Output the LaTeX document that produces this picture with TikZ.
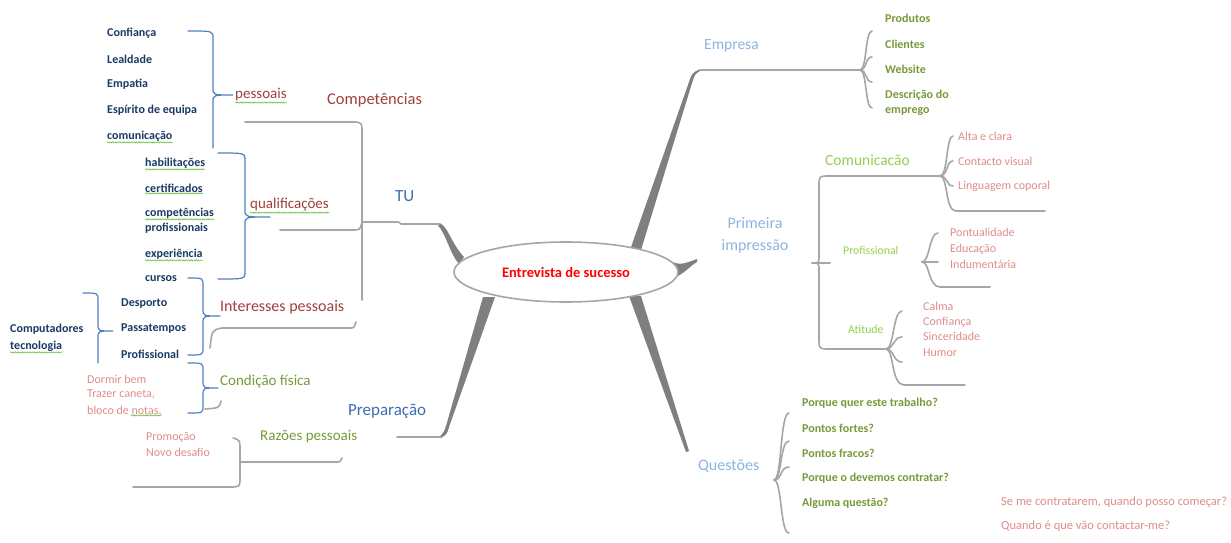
\documentclass[tikz,border=0pt]{standalone}
\usepackage{fontspec}
\setmainfont{Carlito}
\usetikzlibrary{shapes.geometric,decorations.pathmorphing,calc}

\definecolor{navyink}{HTML}{1B3A64}
\definecolor{rust}{HTML}{A0403D}
\definecolor{deepblue}{HTML}{3E6DB0}
\definecolor{paleblue}{HTML}{8DB3E2}
\definecolor{limeink}{HTML}{92D050}
\definecolor{oliveink}{HTML}{7A9A3A}
\definecolor{salmon}{HTML}{E08C8A}
\definecolor{bracecol}{HTML}{4F81BD}
\definecolor{linegray}{HTML}{A6A6A6}
\definecolor{branchgray}{HTML}{7F7F7F}
\definecolor{spellgreen}{HTML}{6CC24A}

% curly brace: style, end x, spine x, tip x, top y, tip y, bottom y
\newcommand\curlyB[7]{%
  \draw[#1] (#2,#5) .. controls (#3,#5) .. (#3,#5+7) -- (#3,#6-7)
    .. controls (#3,#6) .. (#4,#6)
    (#4,#6) .. controls (#3,#6) .. (#3,#6+7) -- (#3,#7-7)
    .. controls (#3,#7) .. (#2,#7);}

\tikzset{
  txt/.style={inner sep=0pt, anchor=west, align=left},
  navyitem/.style={txt, text=navyink, font=\fontsize{12}{14}\selectfont\bfseries},
  rustlbl/.style={txt, text=rust, font=\fontsize{15}{18}\selectfont},
  olivelbl/.style={txt, text=oliveink, font=\fontsize{15}{18}\selectfont},
  olivesmall/.style={txt, text=oliveink, font=\fontsize{12}{15}\selectfont\bfseries},
  salmonitem/.style={txt, text=salmon, font=\fontsize{12}{15.5}\selectfont},
  palelbl/.style={txt, text=paleblue, font=\fontsize{15.5}{22}\selectfont},
  limelbl/.style={txt, text=limeink, font=\fontsize{15.5}{18}\selectfont},
  limesmall/.style={txt, text=limeink, font=\fontsize{11.8}{14}\selectfont},
  bluelbl/.style={txt, text=deepblue, font=\fontsize{17}{20}\selectfont},
  gline/.style={draw=linegray, line width=1.6pt, line cap=round, line join=round},
  bluebr/.style={draw=bracecol, line width=1.2pt, line cap=round},
  branch/.style={fill=branchgray},
  spell/.style={draw=spellgreen, line width=0.6pt, decorate,
    decoration={snake, amplitude=0.6pt, segment length=2.4pt}},
  hubstyle/.style={draw=linegray, line width=1.6pt, fill=white, ellipse,
    inner sep=0pt, minimum width=224pt, minimum height=60pt,
    text=red, font=\fontsize{14.5}{17}\selectfont\bfseries}
}

\begin{document}
\begin{tikzpicture}[x=1pt,y=-1pt]
\useasboundingbox (0,0) rectangle (1231,543);
\fill[white] (0,0) rectangle (1231,543);

% ---------- thick main branches ----------
% to Empresa
\fill[branch] (630,250) -- (689,82) .. controls (692,73) .. (700,69.2)
  -- (700,71) .. controls (695,74) .. (692,83) -- (641,250) -- cycle;
% to TU
\fill[branch] (438,223) .. controls (447,223) and (450,242) .. (464,257)
  -- (459,264) .. controls (450,254) and (446,234) .. (438,225.4) -- cycle;
% to Preparacao
\fill[branch] (483,297) -- (446,426) .. controls (444,432) .. (440,436.2)
  -- (441,438) .. controls (447,434) .. (449,427) -- (495,297) -- cycle;
% to Questoes
\fill[branch] (629,296) -- (686,452) -- (689,451) -- (641,296) -- cycle;
% to Primeira impressao
\fill[branch] (672,262) .. controls (682,266) and (688,262) .. (697,259)
  -- (697,262) .. controls (690,266) and (686,272) .. (676,277) -- cycle;

% ---------- left side grey connectors ----------
\coordinate (tuj) at (362,222);
\draw[gline] (245,122) -- (352,122) .. controls (362,122) .. (362,134) -- (362,300);
\draw[gline] (tuj) -- (397,222) .. controls (399,222) .. (401,224) -- (440,224);
\draw[gline] (280,230) -- (352,230) .. controls (360,230) .. (tuj);
\draw[gline] (210,348) .. controls (212,330) .. (222,328) -- (350,328)
  .. controls (354,328) .. (356,322);
\draw[gline] (397,437) -- (441,437);
\draw[gline] (240,462) -- (336,462) .. controls (340,462) .. (342,458);
\draw[gline] (233,438) .. controls (240,440) .. (240,450) -- (240,477)
  .. controls (240,487) .. (230,487) -- (133,487);
\draw[gline] (221,401) .. controls (219,408) .. (205,409);

% ---------- right side grey connectors ----------
\draw[gline] (700,70) -- (860,70);
\foreach \yy in {31,57,82,108}
  \draw[gline] (860,70) .. controls (867,70) and (865,\yy) .. (872,\yy);

\draw[gline] (940,176) -- (829,176) .. controls (819,176) .. (819,186) -- (819,255)
  .. controls (819,263) .. (812,263) .. controls (819,263) .. (819,271) -- (819,339)
  .. controls (819,349) .. (829,349) -- (886,349);
\draw[gline] (812,263) -- (830,263);

\foreach \yy in {136,161,186}
  \draw[gline] (940,176) .. controls (948,176) and (946,\yy) .. (953,\yy);
\draw[gline] (940,176) .. controls (948,176) and (945,211) .. (956,211) -- (1045,211);

\foreach \yy in {233,262}
  \draw[gline] (922,262) .. controls (930,262) and (929,\yy) .. (938,\yy);
\draw[gline] (922,262) .. controls (930,262) and (928,287) .. (940,287) -- (990,287);

\foreach \yy in {311,337,362}
  \draw[gline] (886,349) .. controls (894,349) and (893,\yy) .. (902,\yy);
\draw[gline] (886,349) .. controls (894,349) and (891,385) .. (904,385) -- (965,385);

\foreach \yy in {413,441,467,533}
  \draw[gline] (774,480) .. controls (782,480) and (780,\yy) .. (789,\yy);

% ---------- blue braces ----------
\draw[bluebr] (188,31) .. controls (213,31) .. (213,38) -- (213,88)
  .. controls (213,95) .. (233,95) .. controls (213,95) .. (213,102) -- (213,148);
\curlyB{bluebr}{218}{245}{270}{153}{217}{279}
\curlyB{bluebr}{188}{203}{220}{278}{316}{355}
\draw[bluebr] (83,293) .. controls (98,293) .. (98,300) -- (98,324)
  .. controls (98,331) .. (113,331) .. controls (98,331) .. (98,338) -- (98,363);
\curlyB{bluebr}{188}{203}{218}{363}{388}{413}

% ---------- central topic ----------
\node[hubstyle] (hub) at (566,272) {Entrevista de sucesso};

% ---------- left texts ----------
\node[navyitem] (conf) at (107,33) {Confiança};
\node[navyitem] (leal) at (107,59) {Lealdade};
\node[navyitem] (empa) at (107,84) {Empatia};
\node[navyitem] (espi) at (107,110) {Espírito de equipa};
\node[navyitem] (comu) at (107,136) {comunicação};
\node[rustlbl] (pess) at (235,95) {pessoais};
\node[rustlbl, font=\fontsize{16.5}{19}\selectfont] (compet) at (327,100) {Competências};

\node[navyitem] (habi) at (145,163) {habilitações};
\node[navyitem] (cert) at (145,188) {certificados};
\node[navyitem] (cpa) at (145,213) {competências};
\node[navyitem] (cpb) at (145,228) {profissionais};
\node[navyitem] (expe) at (145,254) {experiência};
\node[navyitem] (curs) at (145,279) {cursos};
\node[rustlbl] (qual) at (250,205) {qualificações};
\node[bluelbl] (tu) at (395,196) {TU};

\node[navyitem] (desp) at (121,304) {Desporto};
\node[navyitem] (pass) at (121,329) {Passatempos};
\node[navyitem] (prof) at (121,354) {Profissional};
\node[navyitem] (compu) at (10,329) {Computadores};
\node[navyitem] (tecn) at (10,346) {tecnologia};
\node[rustlbl, font=\fontsize{16}{19}\selectfont] (inter) at (220,307) {Interesses pessoais};

\node[salmonitem] (dorm) at (87,379) {Dormir bem};
\node[salmonitem] (traz) at (87,394) {Trazer caneta,};
\node[salmonitem] (bloc) at (87,410) {bloco de notas.};
\node[olivelbl] (cond) at (220,382) {Condição física};
\node[bluelbl] (prep) at (348,411) {Preparação};
\node[olivelbl] (razo) at (260,437) {Razões pessoais};
\node[salmonitem, font=\fontsize{12}{16}\selectfont] (promo) at (146,445) {Promoção\\Novo desafio};

% spelling marks
\foreach \n in {comu,pess,habi,cert,cpa,expe,qual,tecn}
  \draw[spell] ($(\n.south west)+(0,1)$) -- ($(\n.south east)+(0,1)$);
\draw[spell] ($(bloc.south east)+(-31,1)$) -- ($(bloc.south east)+(0,1)$);

% ---------- right texts ----------
\node[palelbl] (emp) at (704,46) {Empresa};
\node[olivesmall] (prod) at (885,18) {Produtos};
\node[olivesmall] (cli) at (885,44) {Clientes};
\node[olivesmall] (web) at (885,69) {Website};
\node[olivesmall] (desc) at (885,102.5) {Descrição do\\emprego};

\node[limelbl] (comunic) at (825,160) {Comunicacão};
\node[salmonitem] (alta) at (958,136) {Alta e clara};
\node[salmonitem] (cont) at (958,161) {Contacto visual};
\node[salmonitem] (ling) at (958,186) {Linguagem coporal};

\node[palelbl, anchor=center, align=center, font=\fontsize{16}{22}\selectfont] (prim) at (755,235) {Primeira\\impressão};
\node[limesmall] (profi) at (843,250) {Profissional};
\node[salmonitem, font=\fontsize{12}{16}\selectfont] (pont) at (950,248) {Pontualidade\\Educação\\Indumentária};
\node[limesmall] (atit) at (848,329) {Atitude};
\node[salmonitem, font=\fontsize{12}{15.3}\selectfont] (calma) at (923,329) {Calma\\Confiança\\Sinceridade\\Humor};

\node[palelbl, font=\fontsize{16}{19}\selectfont] (quest) at (698,466) {Questões};
\node[olivesmall] (q1) at (802,403) {Porque quer este trabalho?};
\node[olivesmall] (q2) at (802,428) {Pontos fortes?};
\node[olivesmall] (q3) at (802,453) {Pontos fracos?};
\node[olivesmall] (q4) at (802,478) {Porque o devemos contratar?};
\node[olivesmall] (q5) at (802,503) {Alguma questão?};
\node[salmonitem, font=\fontsize{12.5}{15}\selectfont] (se) at (1001,502) {Se me contratarem, quando posso começar?};
\node[salmonitem, font=\fontsize{12.5}{15}\selectfont] (quando) at (1001,526) {Quando é que vão contactar-me?};
\end{tikzpicture}
\end{document}
